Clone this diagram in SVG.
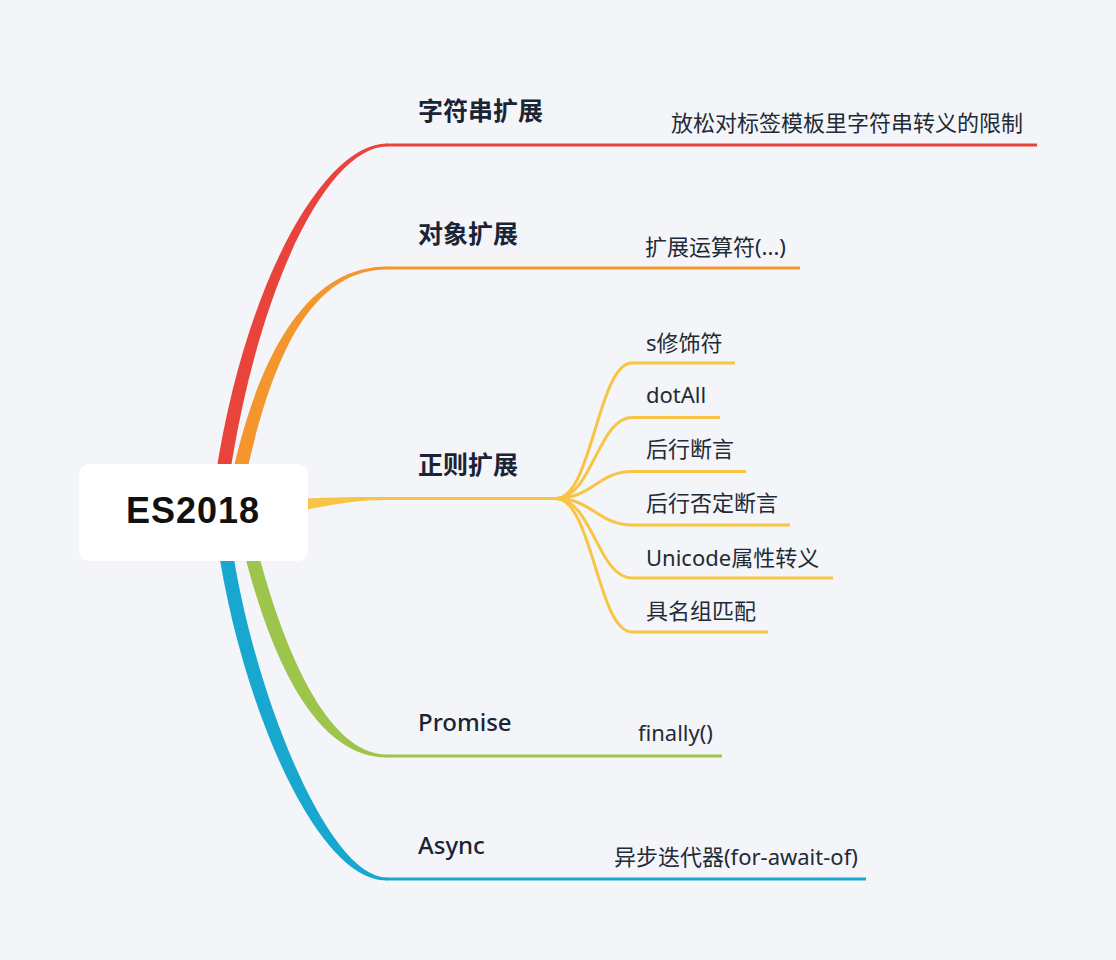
<svg xmlns="http://www.w3.org/2000/svg" width="1116" height="960" viewBox="0 0 1116 960">
<style>
.t1{font-family:"Noto Sans","Noto Sans CJK SC",sans-serif;font-size:25px;font-weight:700;fill:#1b2435}
.t1l{font-family:"Noto Sans","Noto Sans CJK SC",sans-serif;font-size:24px;font-weight:500;fill:#1b2435}
.t2{font-family:"Noto Sans","Noto Sans CJK SC",sans-serif;font-size:22px;fill:#222a36}
.ln{fill:none;stroke-width:3;stroke-linecap:butt}
.y{stroke:#f8c443}
</style>
<rect width="1116" height="960" fill="#f4f5f9"/>
<g id="connectors">
  <!-- red -->
  <path d="M215,480 C245,279 325,143.5 387,143.5 L387,146.5 C329,146.5 259,281 229,480 Z" fill="#e9443b"/>
  <path class="ln" d="M386,145 H1037" stroke="#e9443b"/>
  <!-- orange -->
  <path d="M231,480 C257,359 305,266.5 387,266.5 L387,269.5 C309,269.5 271,361 245,480 Z" fill="#f5952e"/>
  <path class="ln" d="M386,268 H800" stroke="#f5952e"/>
  <!-- yellow -->
  <path d="M300,499 C335,497 360,497 387,497 L387,500 C360,500 338,503 300,511 Z" fill="#f8c443"/>
  <path class="ln y" d="M386,498.5 H560"/>
  <path class="ln y" d="M556,498.5 C592,498.5 598,363 632,363 H735"/>
  <path class="ln y" d="M556,498.5 C592,498.5 598,417.5 632,417.5 H720"/>
  <path class="ln y" d="M556,498.5 C592,498.5 598,471.5 632,471.5 H746"/>
  <path class="ln y" d="M556,498.5 C592,498.5 598,525 632,525 H790"/>
  <path class="ln y" d="M556,498.5 C592,498.5 598,578 632,578 H833"/>
  <path class="ln y" d="M556,498.5 C592,498.5 598,632 632,632 H768"/>
  <!-- green -->
  <path d="M241,540 C268,652 313,757.5 387,757.5 L387,754.5 C327,754.5 282,648 255,540 Z" fill="#9dc44b"/>
  <path class="ln" d="M386,756 H722" stroke="#9dc44b"/>
  <!-- blue -->
  <path d="M217,540 C238,692 313,880.5 387,880.5 L387,877.5 C327,877.5 252,688 231,540 Z" fill="#17a7cf"/>
  <path class="ln" d="M386,879 H866" stroke="#17a7cf"/>
</g>
<g id="root">
  <rect x="79" y="464" width="229" height="97" rx="10" fill="#ffffff"/>
  <text x="193" y="523" text-anchor="middle" font-family="'Liberation Sans',sans-serif" font-size="36" font-weight="700" letter-spacing="1" fill="#111111">ES2018</text>
</g>
<g id="b-string"><text class="t1" x="418" y="120">字符串扩展</text></g>
<g id="b-string-1"><text class="t2" x="671" y="131">放松对标签模板里字符串转义的限制</text></g>
<g id="b-object"><text class="t1" x="418" y="243">对象扩展</text></g>
<g id="b-object-1"><text class="t2" x="645" y="255">扩展运算符(...)</text></g>
<g id="b-regex"><text class="t1" x="418" y="474">正则扩展</text></g>
<g id="b-regex-1"><text class="t2" x="646" y="351">s修饰符</text></g>
<g id="b-regex-2"><text class="t2" x="646" y="403">dotAll</text></g>
<g id="b-regex-3"><text class="t2" x="646" y="457">后行断言</text></g>
<g id="b-regex-4"><text class="t2" x="646" y="511">后行否定断言</text></g>
<g id="b-regex-5"><text class="t2" x="646" y="566">Unicode属性转义</text></g>
<g id="b-regex-6"><text class="t2" x="646" y="619">具名组匹配</text></g>
<g id="b-promise"><text class="t1l" x="418" y="731">Promise</text></g>
<g id="b-promise-1"><text class="t2" x="638" y="741">finally()</text></g>
<g id="b-async"><text class="t1l" x="418" y="854">Async</text></g>
<g id="b-async-1"><text class="t2" x="614" y="865">异步迭代器(for-await-of)</text></g>
</svg>
